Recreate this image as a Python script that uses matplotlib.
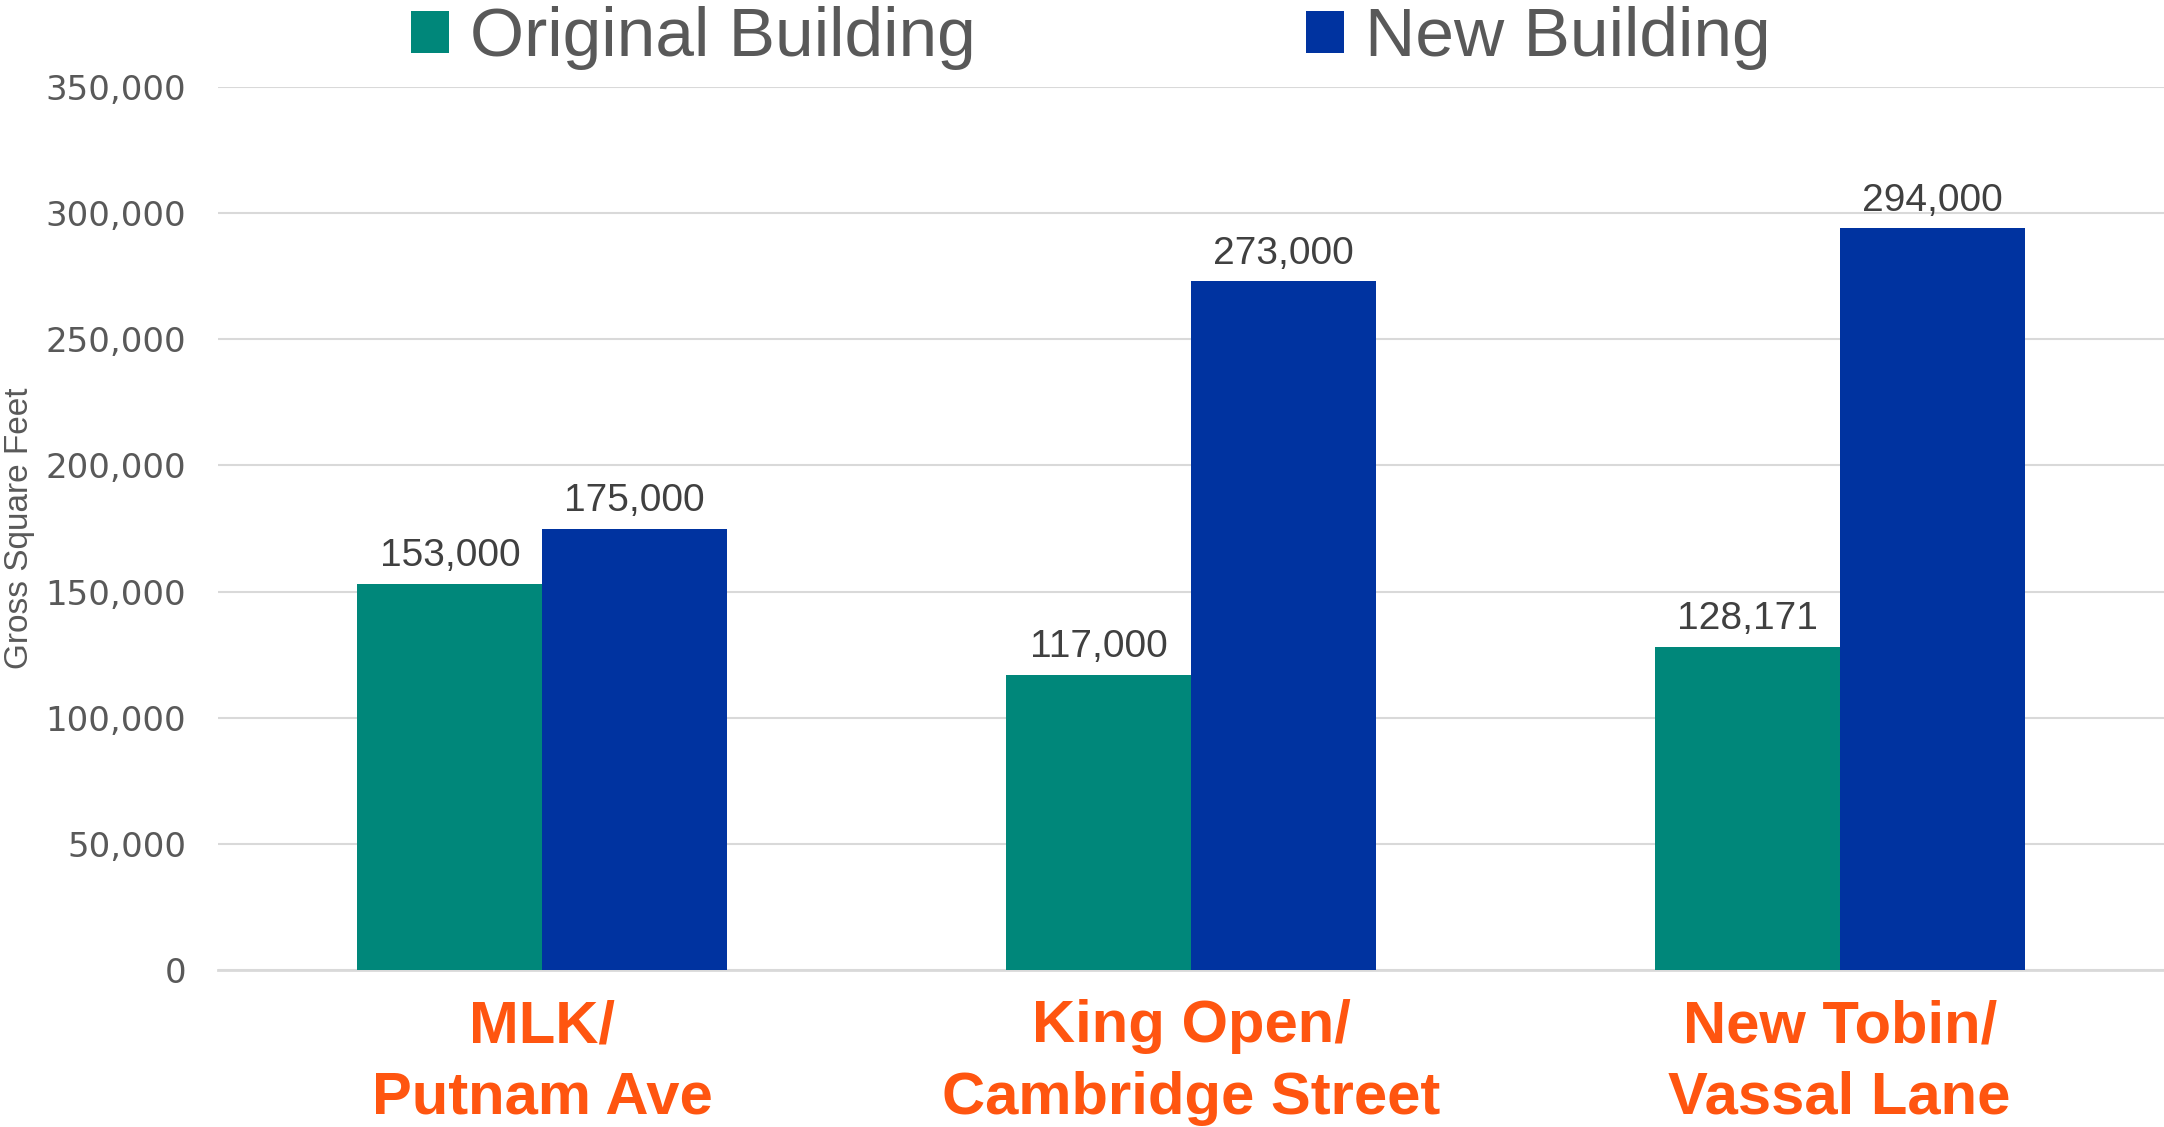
import matplotlib
matplotlib.use("Agg")
import matplotlib.pyplot as plt
import numpy as np

categories = ["MLK/\nPutnam Ave", "King Open/\nCambridge Street", "New Tobin/\nVassal Lane"]
original = [153000, 117000, 128171]
new = [175000, 273000, 294000]
yticks = [0, 50000, 100000, 150000, 200000, 250000, 300000, 350000]
series_names = ["Original Building", "New Building"]

teal = "#00877A"
blue = "#0033A0"
orange = "#FF5510"
gray = "#595959"

fig = plt.figure(figsize=(21.64, 11.27), dpi=100)
ax = fig.add_axes([0.1007, 0.1393, 0.8993, 0.7835])

x = np.arange(len(categories))
w = 0.285
b1 = ax.bar(x - w / 2, original, w, color=teal, label=series_names[0], zorder=3)
b2 = ax.bar(x + w / 2, new, w, color=blue, label=series_names[1], zorder=3)

for bars, vals in ((b1, original), (b2, new)):
    for r, v in zip(bars, vals):
        ax.annotate(f"{v:,}", (r.get_x() + r.get_width() / 2, v), xytext=(0, 7),
                    textcoords="offset points", ha="center", va="bottom",
                    fontsize=28, color="#404040", family="Liberation Sans")

ax.set_xlim(-0.5, 2.5)
ax.set_ylim(0, 350000)
ax.set_yticks(yticks)
ax.set_yticklabels([f"{t:,}" for t in yticks], fontsize=24.5, color=gray, family="DejaVu Sans")
ax.yaxis.grid(True, color="#D9D9D9", linewidth=1.5, zorder=0)
ax.tick_params(axis="y", length=0, pad=23)
ax.tick_params(axis="x", length=0, pad=21)
ax.set_xticks(x)
ax.set_xticklabels(categories, fontsize=43, fontweight="bold", color=orange,
                   family="Liberation Sans", linespacing=1.38)
for s in ["top", "right", "left"]:
    ax.spines[s].set_visible(False)
ax.spines["bottom"].set_color("#D9D9D9")
ax.spines["bottom"].set_linewidth(2)

ax.set_ylabel("Gross Square Feet", fontsize=24, color=gray, family="Liberation Sans")
ax.yaxis.set_label_coords(-0.094, 0.5)

leg = fig.legend(handles=[b1, b2], labels=series_names, loc="upper left",
                 bbox_to_anchor=(0.161, 1.05), ncol=2, frameon=False,
                 prop={"family": "Liberation Sans", "size": 50},
                 handlelength=0.55, handleheight=0.55, handletextpad=0.3, columnspacing=4.75)
for t in leg.get_texts():
    t.set_color(gray)

fig.savefig("out.png", dpi=100)
